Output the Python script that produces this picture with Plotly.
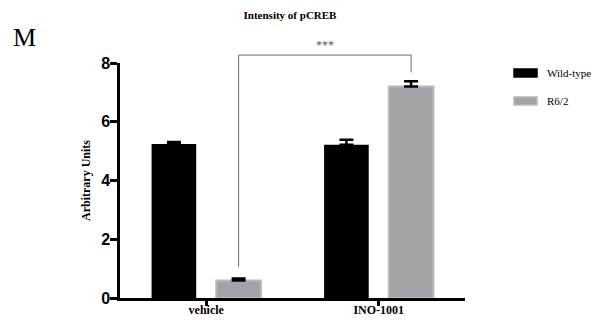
import plotly.graph_objects as go

categories = ["vehicle", "INO-1001"]
wild_type = [5.24, 5.22]
wild_type_err = [0.07, 0.17]
r62 = [0.60, 7.20]
r62_err = [0.06, 0.18]
y_ticks = [0, 2, 4, 6, 8]
Y_MAX = 8

BARGAP = 0.25
BARGROUPGAP = 0.31
serif = "Liberation Serif, Times New Roman, serif"
sans = "Liberation Sans, Arial, sans-serif"

fig = go.Figure()
fig.add_trace(go.Bar(
    x=[0, 1], y=wild_type, name="Wild-type",
    marker=dict(color="#000000", line=dict(color="#000000", width=0)),
    error_y=dict(type="data", array=wild_type_err, arrayminus=[0, 0],
                 symmetric=False, color="#000000", thickness=2.5, width=7),
    showlegend=False,
))
fig.add_trace(go.Bar(
    x=[0, 1], y=r62, name="R6/2",
    marker=dict(color="#a3a3a7", line=dict(color="#b9b9bb", width=2)),
    error_y=dict(type="data", array=r62_err, arrayminus=[0, 0],
                 symmetric=False, color="#000000", thickness=2.5, width=7),
    showlegend=False,
))

# significance bracket between R6/2 bars (y in paper units so it may sit above the axis)
off = (1 - BARGAP) / 4
x_left = 0 + off
x_right = 1 + off
y_top = 8.27 / Y_MAX
y_left = (r62[0] + 0.45) / Y_MAX
y_right = (r62[1] + r62_err[1] + 0.3) / Y_MAX
line_style = dict(color="#6a6a6a", width=1)
fig.add_shape(type="line", xref="x", yref="paper", x0=x_left, x1=x_left, y0=y_left, y1=y_top, line=line_style)
fig.add_shape(type="line", xref="x", yref="paper", x0=x_left, x1=x_right, y0=y_top, y1=y_top, line=line_style)
fig.add_shape(type="line", xref="x", yref="paper", x0=x_right, x1=x_right, y0=y_top, y1=y_right, line=line_style)
fig.add_annotation(x=(x_left + x_right) / 2, y=y_top, xref="x", yref="paper", text="***",
                   showarrow=False, yanchor="bottom", yshift=1,
                   font=dict(family=serif, size=12, color="#555555"))

# legend (drawn manually to match the wide swatches)
legend_items = [("Wild-type", "#000000", "#000000"), ("R6/2", "#a3a3a7", "#b9b9bb")]
for i, (label, fill, edge) in enumerate(legend_items):
    y0 = 73 + i * 28
    fig.add_shape(type="rect", xref="paper", yref="paper",
                  x0=(514 - 120) / 345, x1=(537 - 120) / 345,
                  y0=(298 - (y0 + 4)) / 235, y1=(298 - (y0 - 4)) / 235,
                  fillcolor=fill, line=dict(color=edge, width=1.5))
    fig.add_annotation(xref="paper", yref="paper", x=(545 - 120) / 345, y=(298 - y0) / 235,
                       text=label, showarrow=False, xanchor="left", yanchor="middle",
                       font=dict(family=serif, size=11, color="#000000"))

# panel letter
fig.add_annotation(xref="paper", yref="paper", x=(11 - 120) / 345, y=(298 - 37) / 235,
                   text="M", showarrow=False, xanchor="left", yanchor="middle",
                   font=dict(family=serif, size=26, color="#000000"))

fig.update_layout(
    width=592, height=320,
    margin=dict(l=120, r=127, t=63, b=22),
    paper_bgcolor="white", plot_bgcolor="white",
    barmode="group", bargap=BARGAP, bargroupgap=BARGROUPGAP,
    title=dict(text="<b>Intensity of pCREB</b>", x=290 / 592, xanchor="center",
               y=1 - 15 / 320, yanchor="middle",
               font=dict(family=serif, size=11, color="#000000")),
    xaxis=dict(range=[-0.5, 1.5], tickvals=[0, 1], ticktext=[f"<b>{c}</b>" for c in categories],
               showline=True, linecolor="#000000", linewidth=2.5,
               ticks="outside", ticklen=5, tickwidth=2.5, tickcolor="#000000",
               ticklabelstandoff=-6,
               showgrid=False, zeroline=False, automargin=False,
               tickfont=dict(family=serif, size=12, color="#000000")),
    yaxis=dict(range=[0, Y_MAX], tickvals=y_ticks, ticktext=[f"<b>{t}</b>" for t in y_ticks],
               showline=True, linecolor="#000000", linewidth=2.5,
               ticks="outside", ticklen=7, tickwidth=2.5, tickcolor="#000000",
               ticklabelstandoff=-3,
               showgrid=False, zeroline=False, automargin=False,
               tickfont=dict(family=sans, size=16, color="#000000"),
               title=dict(text="<b>Arbitrary Units</b>", standoff=8,
                          font=dict(family=serif, size=12, color="#000000"))),
)

fig.write_html("out.html", config={"displayModeBar": False},
               post_script="document.body.style.margin='0';")
